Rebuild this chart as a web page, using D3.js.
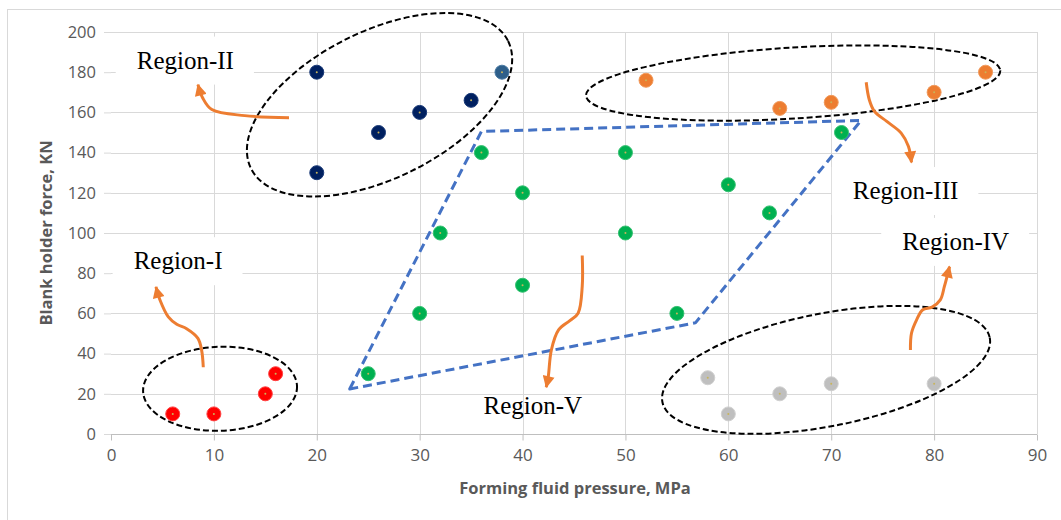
<!DOCTYPE html>
<html>
<head>
<meta charset="utf-8">
<script src="https://cdn.jsdelivr.net/npm/d3@7"></script>
<style>
  body { margin: 0; background: #fff; }
  svg { display: block; }
</style>
</head>
<body>
<div id="chart"></div>
<script>
// region data (x = forming fluid pressure MPa, y = blank holder force KN)
var regionI = [[6, 10], [10, 10], [15, 20], [16, 30]];
var regionII = [[20, 180], [20, 130], [26, 150], [30, 160], [35, 166]];
var regionIIextra = [[38, 180]];
var regionIII = [[52, 176], [65, 162], [70, 165], [80, 170], [85, 180]];
var regionIV = [[58, 28], [60, 10], [65, 20], [70, 25], [80, 25]];
var regionV = [[25, 30], [30, 60], [32, 100], [36, 140], [40, 120], [40, 74], [50, 140], [50, 100], [55, 60], [60, 124], [64, 110], [71, 150]];

var xTicks = [0, 10, 20, 30, 40, 50, 60, 70, 80, 90];
var yTicks = [0, 20, 40, 60, 80, 100, 120, 140, 160, 180, 200];

// dashed blue boundary of region V
var boundary = [[23.2, 22.4], [36, 150.5], [72.9, 156], [56.8, 55.3]];

// region labels (text start, baseline) and whether a white box sits behind
var labels = [
  {text: "Region-I", x: 2.2, y: 82, box: true},
  {text: "Region-II", x: 2.5, y: 181.8, box: true},
  {text: "Region-III", x: 72.1, y: 116.9, box: true},
  {text: "Region-IV", x: 76.9, y: 91.6, box: true},
  {text: "Region-V", x: 36.2, y: 9.8, box: false}
];

// dashed ellipses: centre in data units, radii in px, rotation deg
var ellipses = [
  {cx: 10.6, cy: 22.5, a: 77, b: 42, rot: -2},
  {cx: 26.1, cy: 163.8, a: 143.5, b: 73.6, rot: -26.4},
  {cx: 66.3, cy: 174.6, a: 207.5, b: 35.5, rot: -3.5},
  {cx: 69.5, cy: 31.9, a: 166.8, b: 56.4, rot: -11.1}
];

// orange curved arrows, start -> tip
var arrows = [
  [[8.97, 33.2], [8.81, 41.6], [8.45, 47.6], [7.35, 52.4], [6.39, 54.6], [5.57, 58.3], [4.76, 66.7], [4.37, 73.2]],
  [[17.3, 157.4], [13.0, 158.4], [9.8, 161.4], [8.9, 167.3], [8.45, 173.8]],
  [[73.4, 175.0], [73.7, 166.3], [74.2, 160.5], [75.4, 155.5], [76.8, 149.7], [77.5, 143.1], [77.8, 135.1]],
  [[77.7, 41.8], [77.8, 50.1], [78.3, 56.8], [78.9, 61.8], [79.8, 63.1], [80.6, 66.7], [81.0, 73.4], [81.5, 83.3]],
  [[45.8, 88.8], [45.8, 73.4], [45.4, 60.1], [44.6, 56.4], [43.5, 51.8], [42.8, 41.8], [42.5, 28.5], [42.3, 23.3]]
];

var width = 1061;
var height = 520;
var svg = d3.select('#chart').append('svg')
  .attr('width', width)
  .attr('height', height);

var x = d3.scaleLinear().domain([0, 90]).range([111, 1037]);
var y = d3.scaleLinear().domain([0, 200]).range([434, 32]);

// outer chart border (only left and top are in frame)
svg.append('rect')
  .attr('x', 7.5).attr('y', 9.5)
  .attr('width', 1100).attr('height', 600)
  .attr('fill', 'none')
  .attr('stroke', '#d9d9d9');

// gridlines
svg.append('g').selectAll('line').data(yTicks.filter(function(d) { return d > 0; }))
  .enter().append('line')
  .attr('x1', x(0)).attr('x2', x(90))
  .attr('y1', function(d) { return Math.round(y(d)) + 0.5; })
  .attr('y2', function(d) { return Math.round(y(d)) + 0.5; })
  .attr('stroke', '#d9d9d9');
svg.append('g').selectAll('line').data(xTicks.filter(function(d) { return d > 0; }))
  .enter().append('line')
  .attr('y1', y(0)).attr('y2', y(200))
  .attr('x1', function(d) { return Math.round(x(d)) + 0.5; })
  .attr('x2', function(d) { return Math.round(x(d)) + 0.5; })
  .attr('stroke', '#d9d9d9');

// x axis
var xAxis = d3.axisBottom(x).tickValues(xTicks).tickSize(6).tickPadding(8);
var gx = svg.append('g').attr('transform', 'translate(0,' + (Math.round(y(0)) + 0.5) + ')').call(xAxis);
gx.select('.domain').attr('stroke', '#bfbfbf').attr('d', 'M' + x(0) + ',0H' + x(90));
gx.selectAll('.tick line').attr('stroke', '#bfbfbf');
gx.selectAll('.tick text')
  .attr('fill', '#595959')
  .style('font-family', '"Open Sans", sans-serif')
  .style('font-size', '17px');

// y axis
var yAxis = d3.axisLeft(y).tickValues(yTicks).tickSize(7).tickPadding(8);
var gy = svg.append('g').attr('transform', 'translate(' + x(0) + ',0)').call(yAxis);
gy.select('.domain').remove();
gy.selectAll('.tick line').attr('stroke', '#d9d9d9');
gy.selectAll('.tick text')
  .attr('fill', '#595959')
  .style('font-family', '"Open Sans", sans-serif')
  .style('font-size', '16.5px');

// axis titles
svg.append('text')
  .attr('x', 575).attr('y', 494)
  .attr('text-anchor', 'middle')
  .attr('fill', '#595959')
  .style('font-family', '"Open Sans", sans-serif')
  .style('font-weight', 'bold')
  .style('font-size', '16.5px')
  .text('Forming fluid pressure, MPa');
svg.append('text')
  .attr('transform', 'translate(52,233) rotate(-90)')
  .attr('text-anchor', 'middle')
  .attr('fill', '#595959')
  .style('font-family', '"Open Sans", sans-serif')
  .style('font-weight', 'bold')
  .style('font-size', '16.5px')
  .text('Blank holder force, KN');

// label boxes + labels
var lab = svg.append('g').selectAll('g').data(labels).enter().append('g');
lab.each(function(d) {
  var g = d3.select(this);
  var t = g.append('text')
    .attr('x', x(d.x)).attr('y', y(d.y))
    .attr('fill', '#000')
    .style('font-family', '"Liberation Serif", "Times New Roman", serif')
    .style('font-size', '25px')
    .text(d.text);
  if (d.box) {
    var bb = t.node().getBBox();
    g.insert('rect', 'text')
      .attr('x', bb.x - 21).attr('y', y(d.y) - 32)
      .attr('width', bb.width + 41).attr('height', 48)
      .attr('fill', '#fff');
  }
});

// region V boundary
svg.append('path')
  .attr('d', d3.line().x(function(d) { return x(d[0]); }).y(function(d) { return y(d[1]); })(boundary) + 'Z')
  .attr('fill', 'none')
  .attr('stroke', '#4472c4')
  .attr('stroke-width', 3)
  .attr('stroke-dasharray', '9,5')
  .attr('stroke-linejoin', 'round');

// ellipses
svg.append('g').selectAll('ellipse').data(ellipses).enter().append('ellipse')
  .attr('transform', function(d) { return 'translate(' + x(d.cx) + ',' + y(d.cy) + ') rotate(' + d.rot + ')'; })
  .attr('rx', function(d) { return d.a; })
  .attr('ry', function(d) { return d.b; })
  .attr('fill', 'none')
  .attr('stroke', '#000')
  .attr('stroke-width', 2)
  .attr('stroke-dasharray', '6,3');

// arrows
svg.append('defs').append('marker')
  .attr('id', 'head')
  .attr('viewBox', '0 0 12 12')
  .attr('refX', 11).attr('refY', 6)
  .attr('markerWidth', 13).attr('markerHeight', 12)
  .attr('markerUnits', 'userSpaceOnUse')
  .attr('orient', 'auto')
  .append('path')
  .attr('d', 'M0,0L12,6L0,12Z')
  .attr('fill', '#ed7d31');

var curve = d3.line().curve(d3.curveCatmullRom)
  .x(function(d) { return x(d[0]); })
  .y(function(d) { return y(d[1]); });
svg.append('g').selectAll('path').data(arrows).enter().append('path')
  .attr('d', curve)
  .attr('fill', 'none')
  .attr('stroke', '#ed7d31')
  .attr('stroke-width', 3)
  .attr('marker-end', 'url(#head)');

// points
function drawPoints(data, color, ring) {
  var g = svg.append('g');
  g.selectAll('circle.pt').data(data).enter().append('circle')
    .attr('class', 'pt')
    .attr('cx', function(d) { return x(d[0]); })
    .attr('cy', function(d) { return y(d[1]); })
    .attr('r', 7)
    .attr('fill', color)
    .attr('stroke', ring)
    .attr('stroke-width', 1);
  g.selectAll('circle.dot').data(data).enter().append('circle')
    .attr('class', 'dot')
    .attr('cx', function(d) { return x(d[0]); })
    .attr('cy', function(d) { return y(d[1]); })
    .attr('r', 1)
    .attr('fill', '#c8b45a');
}
drawPoints(regionI, '#ff0000', '#ff4040');
drawPoints(regionII, '#002060', '#1a3a78');
drawPoints(regionIIextra, '#2e5f8a', '#4a7aa3');
drawPoints(regionIII, '#ed7d31', '#f19a5c');
drawPoints(regionIV, '#bfbfbf', '#d0d0d0');
drawPoints(regionV, '#00b050', '#33c070');
</script>
</body>
</html>
